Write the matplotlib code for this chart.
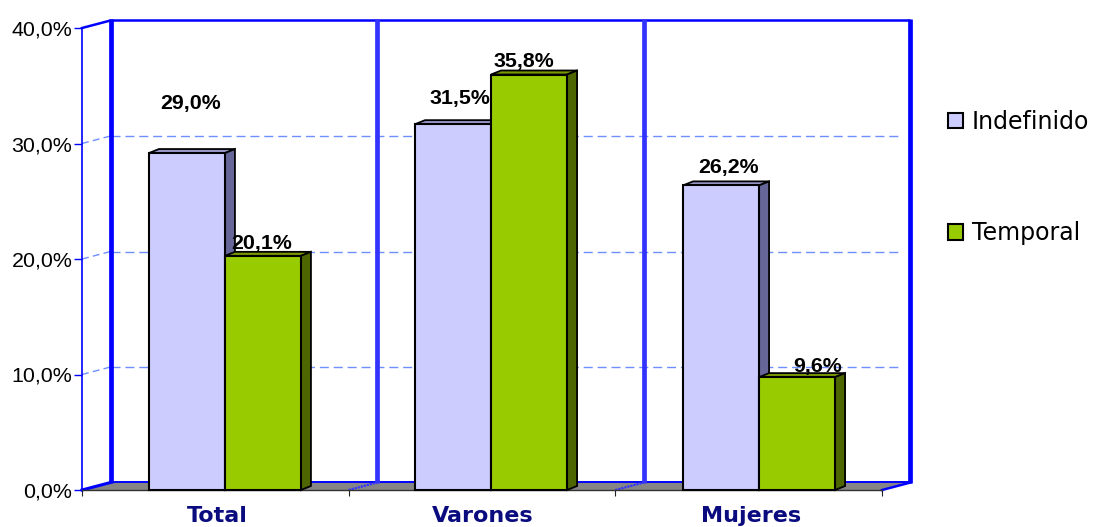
import matplotlib
matplotlib.use("Agg")
import matplotlib.pyplot as plt
from matplotlib.patches import Polygon, Patch

categories = ["Total", "Varones", "Mujeres"]
series_names = ["Indefinido", "Temporal"]
indefinido = [29.0, 31.5, 26.2]
temporal = [20.1, 35.8, 9.6]
label_indef = ["29,0%", "31,5%", "26,2%"]
label_temp = ["20,1%", "35,8%", "9,6%"]
y_ticks = [0, 10, 20, 30, 40]
y_tick_labels = ["0,0%", "10,0%", "20,0%", "30,0%", "40,0%"]

W, H = 1098, 527
fig = plt.figure(figsize=(W / 100, H / 100), dpi=100, facecolor="white")
L, R, B, T = 82, 882, 490, 28
ax = fig.add_axes([L / W, 1 - B / H, (R - L) / W, (B - T) / H])
ax.set_xlim(0, 3)
ax.set_ylim(0, 40)
ax.patch.set_visible(False)
for s in ax.spines.values():
    s.set_visible(False)

px = 3 / (R - L)
py = 40 / (B - T)
DX, DY = 28.5 * px, 7.5 * py      # wall depth
bx, by = 10 * px, 4 * py          # bar depth
bw = 76 * px
lift = 2 * py                     # bar tops sit slightly above the axis scale
cen = [0.536, 1.534, 2.539]
BLUE = "#0000ff"
BLUE2 = "#3333ff"
GRID = "#6f8fff"

# floor
ax.add_patch(Polygon([(0, 0), (3, 0), (3 + DX, DY), (DX, DY)], fc="#858585", ec="none", zorder=1, clip_on=False))
ax.plot([DX, 3 + DX], [DY + 0.8 * py, DY + 0.8 * py], color=BLUE, lw=1.4, zorder=1.5, clip_on=False, solid_capstyle="butt")
ax.plot([DX, 3 + DX], [40 + DY, 40 + DY], color=BLUE, lw=1.8, zorder=1.5, clip_on=False, solid_capstyle="butt")

# gridlines
for v in y_ticks[1:-1]:
    ax.plot([DX, 3 + DX - 9 * px], [v + DY, v + DY], color=GRID, lw=1.0, dashes=(6.5, 3.5), zorder=1.2, clip_on=False)
    ax.plot([0, DX], [v, v + DY], color=GRID, lw=1.0, dashes=(5, 3), zorder=1.2, clip_on=False)

# vertical walls
for i, c in zip(range(4), [BLUE, BLUE2, BLUE2, BLUE]):
    ax.plot([i + DX] * 2, [DY, 40 + DY + 1.5 * py], color=c, lw=3.4, zorder=1.6, clip_on=False, solid_capstyle="butt")

# side wall and axis
ax.plot([0, 0], [0, 40], color=BLUE, lw=1.2, zorder=1.6, clip_on=False)
ax.plot([0, DX], [40, 40 + DY], color=BLUE, lw=1.8, zorder=1.6, clip_on=False)
ax.plot([0, DX], [0, DY], color=BLUE, lw=2.2, zorder=1.6, clip_on=False)
ax.plot([3, 3 + DX], [0, DY], color=BLUE, lw=1.8, zorder=1.6, clip_on=False)
ax.plot([1, 1 + DX], [0, DY], color=BLUE2, lw=1.6, dashes=(1, 0.4), zorder=1.6, clip_on=False)
ax.plot([2, 2 + DX], [0, DY], color=BLUE2, lw=1.6, dashes=(1, 0.4), zorder=1.6, clip_on=False)
ax.plot([0, 3], [0, 0], color="#333333", lw=1.0, zorder=1.7, clip_on=False)


def bar3d(x0, v, front, top, side, z):
    v = v + lift
    ax.bar(x0, v, bw, align="edge", color=front, edgecolor="black", lw=1.5, zorder=z, clip_on=False)
    ax.add_patch(Polygon([(x0, v), (x0 + bw, v), (x0 + bw + bx, v + by), (x0 + bx, v + by)],
                         fc=top, ec="black", lw=1.3, zorder=z - 0.1, clip_on=False))
    ax.add_patch(Polygon([(x0 + bw, 0), (x0 + bw + bx, by), (x0 + bw + bx, v + by), (x0 + bw, v)],
                         fc=side, ec="black", lw=1.3, zorder=z - 0.1, clip_on=False))


for i, c in enumerate(cen):
    bar3d(c - bw, indefinido[i], "#ccccff", "#9999cc", "#666699", 3)
    bar3d(c, temporal[i], "#99cc00", "#7a9900", "#4d6600", 4)

# value labels: offset in px from the bar's front-top centre
off_indef = [(4, 52), (7, 28), (7, 20)]
off_temp = [(-1, 14), (-5, 15), (21, 13)]
font = "Liberation Sans"
FS = 15.4
for i, c in enumerate(cen):
    ax.annotate(label_indef[i], (c - bw / 2, indefinido[i]), xytext=(off_indef[i][0] * .72, off_indef[i][1] * .72),
                textcoords="offset points", ha="center", va="center", fontsize=FS, fontweight="bold",
                family=font, zorder=6, annotation_clip=False)
    ax.annotate(label_temp[i], (c + bw / 2, temporal[i]), xytext=(off_temp[i][0] * .72, off_temp[i][1] * .72),
                textcoords="offset points", ha="center", va="center", fontsize=FS, fontweight="bold",
                family=font, zorder=6, annotation_clip=False)

# axes ticks
ax.set_yticks(y_ticks, y_tick_labels, fontsize=FS, family=font)
ax.tick_params(axis="y", length=5.5, width=1, color=BLUE, pad=1.5, zorder=2)
ax.set_xticks([0, 1, 2, 3], [""] * 4)
ax.tick_params(axis="x", length=4.5, width=0.8, color="#222222")
for i, c in enumerate(cen):
    ax.annotate(categories[i], (c, 0), xytext=(-8 * .72, -26 * .72), textcoords="offset points",
                ha="center", va="center", fontsize=16, fontweight="bold", family="DejaVu Sans",
                color="#0b0b80", annotation_clip=False)

handles = [Patch(fc="#ccccff", ec="black", lw=1.5), Patch(fc="#99cc00", ec="black", lw=1.5)]
fig.legend(handles, series_names, loc="upper left", bbox_to_anchor=(948 / W, 1 - 110 / H), frameon=False,
           fontsize=17, handlelength=0.63, handleheight=0.63, handletextpad=0.38,
           labelspacing=3.7, borderpad=0.0, borderaxespad=0)

fig.savefig("out.png", dpi=100)
